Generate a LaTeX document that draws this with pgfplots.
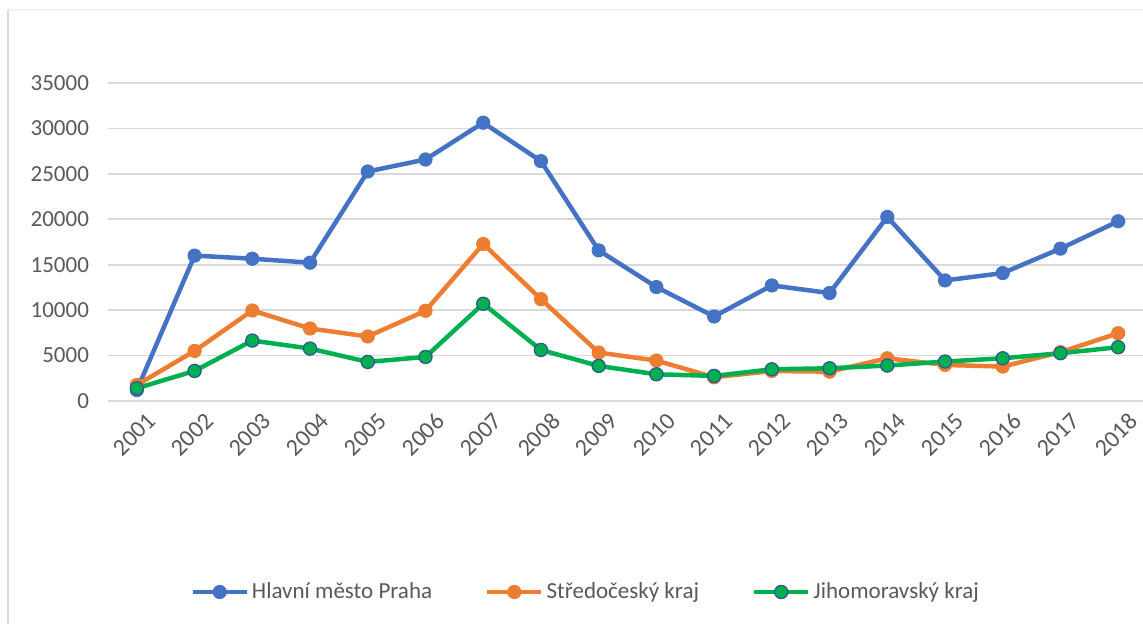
\documentclass[border=0pt]{standalone}
\usepackage{pgfplots}
\pgfplotsset{compat=1.18}
\usepackage{fontspec}
\setmainfont{Carlito}
\definecolor{cblue}{HTML}{4472C4}
\definecolor{corange}{HTML}{ED7D31}
\definecolor{cgreen}{HTML}{00B050}
\definecolor{cedge}{HTML}{2F5597}
\definecolor{ctext}{HTML}{595959}
\definecolor{cgrid}{HTML}{D9D9D9}
\begin{document}
\begin{tikzpicture}
\path[use as bounding box] (0,0) rectangle (571.5pt,312pt);
\draw[cgrid, line width=1pt] (4pt,0) -- (4pt,307pt);
\draw[black!5, line width=0.6pt] (4pt,307pt) -- (571.5pt,307pt);
\begin{axis}[
  at={(54pt,111.5pt)}, anchor=south west,
  scale only axis,
  width=517.5pt, height=159pt,
  xmin=-0.5, xmax=17.43,
  ymin=0, ymax=35000,
  xtick={0,...,17},
  xticklabels={2001,2002,2003,2004,2005,2006,2007,2008,2009,2010,2011,2012,2013,2014,2015,2016,2017,2018},
  ytick={0,5000,...,35000},
  scaled y ticks=false,
  /pgf/number format/assume math mode=true,
  yticklabel={\pgfmathprintnumber[fixed,1000 sep={}]{\tick}},
  axis line style={draw=none},
  tick style={draw=none},
  ymajorgrids,
  grid style={cgrid, line width=0.9pt},
  tick label style={font=\fontsize{11.5}{13}\selectfont, text=ctext},
  xticklabel style={font=\fontsize{12}{13}\selectfont, rotate=45, anchor=north east, xshift=3pt, yshift=-3.5pt},
  yticklabel style={xshift=-6pt},
  clip=false,
  legend columns=3,
  legend style={at={(0.462,-0.6006)}, anchor=center, draw=none, fill=none,
    font=\fontsize{11.5}{13}\selectfont, text=ctext,
    /tikz/every even column/.append style={column sep=25pt},
    inner sep=0pt, nodes={inner sep=1.5pt}},
  legend image code/.code={\draw[mark repeat=2,mark phase=2,#1] plot coordinates {(0pt,0pt) (13.5pt,0pt) (27pt,0pt)};},
]
\addplot[cblue, line width=2.25pt, mark=*, mark size=3.3pt, mark options={solid, fill=cblue, draw=cblue, line width=0.5pt}]
coordinates {(0,1200) (1,16000) (2,15660) (3,15220) (4,25260) (5,26580) (6,30630) (7,26400) (8,16580) (9,12540) (10,9300) (11,12720) (12,11880) (13,20260) (14,13270) (15,14080) (16,16770) (17,19780)};
\addlegendentry{Hlavní město Praha}
\addplot[corange, line width=2.25pt, mark=*, mark size=3.3pt, mark options={solid, fill=corange, draw=corange, line width=0.5pt}]
coordinates {(0,1760) (1,5510) (2,9960) (3,7980) (4,7100) (5,9930) (6,17280) (7,11210) (8,5330) (9,4450) (10,2610) (11,3300) (12,3230) (13,4700) (14,3970) (15,3790) (16,5370) (17,7460)};
\addlegendentry{Středočeský kraj}
\addplot[cgreen, line width=2.25pt, mark=*, mark size=3.3pt, mark options={solid, fill=cgreen, draw=cedge, line width=0.6pt}]
coordinates {(0,1400) (1,3310) (2,6650) (3,5770) (4,4300) (5,4850) (6,10700) (7,5620) (8,3860) (9,2940) (10,2760) (11,3490) (12,3600) (13,3900) (14,4340) (15,4700) (16,5260) (17,5920)};
\addlegendentry{Jihomoravský kraj}
\end{axis}
\end{tikzpicture}
\end{document}
